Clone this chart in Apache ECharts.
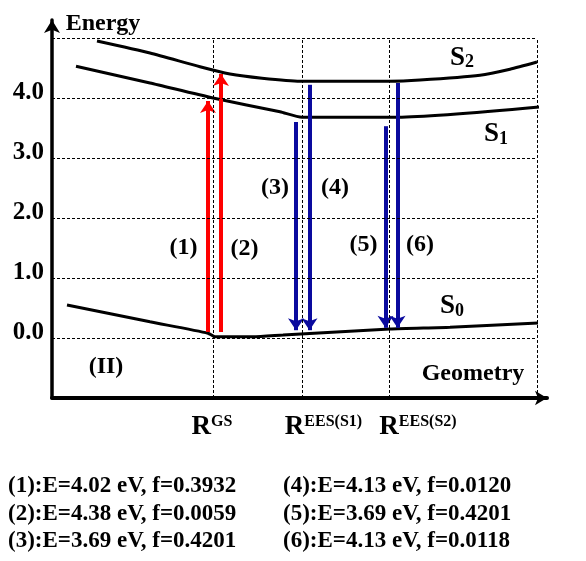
<!DOCTYPE html>
<html>
<head>
<meta charset="utf-8">
<script src="https://cdn.jsdelivr.net/npm/echarts@6/dist/echarts.min.js"></script>
<style>html,body{margin:0;padding:0;background:#fff}#c{width:586px;height:561px}</style>
</head>
<body>
<div id="c"></div>
<script>
// ---- data ----
const xTickPos = [32, 54.3, 73.2];
const xTickSup = ['GS', 'EES(S1)', 'EES(S2)'];
const yTickValues = [0, 1, 2, 3, 4];
const guideY = [0, 1, 2, 3, 4, 5];
const guideX = [32.2, 50, 67.4, 97];

const s2X = [9, 19.6, 29.6, 35.6, 42, 49.6, 67.4, 73.6, 85.6, 91.6, 97];
const s2Y = [4.95, 4.75, 4.52, 4.4, 4.33, 4.28, 4.28, 4.3, 4.38, 4.48, 4.6];
const s1X = [4.8, 19.6, 32.2, 45.6, 50, 69.2, 97.4];
const s1Y = [4.53, 4.25, 4.0, 3.77, 3.68, 3.68, 3.85];
const s0X = [3, 19.6, 31.2, 32.6, 40.2, 46.2, 67.6, 79.6, 97.2];
const s0Y = [0.55, 0.27, 0.08, 0.02, 0.02, 0.05, 0.15, 0.18, 0.25];

const upX = [31.2, 33.8];
const upFrom = [0.1, 0.1];
const upTo = [3.95, 4.4];
const downX = [48.8, 51.5, 66.7, 69.1];
const downFrom = [3.6, 4.22, 3.53, 4.25];
const downTo = [0.13, 0.13, 0.17, 0.17];

const numLabels = ['(1)', '(2)', '(3)', '(4)', '(5)', '(6)'];
const numX = [26.3, 38.5, 44.6, 56.6, 62.3, 73.6];
const numY = [1.5, 1.48, 2.5, 2.5, 1.55, 1.55];

const stateLabels = ['S2', 'S1', 'S0'];
const stateX = [82, 88.8, 80];
const stateY = [4.67, 3.4, 0.53];

const otherLabels = ['Energy', 'Geometry', '(II)'];
const otherX = [10.2, 84.2, 10.8];
const otherY = [5.23, -0.6, -0.48];

const transLeft = ['(1):E=4.02 eV, f=0.3932', '(2):E=4.38 eV, f=0.0059', '(3):E=3.69 eV, f=0.4201'];
const transRight = ['(4):E=4.13 eV, f=0.0120', '(5):E=3.69 eV, f=0.4201', '(6):E=4.13 eV, f=0.0118'];

// ---- chart ----
const FONT = '"Liberation Serif", "Times New Roman", serif';
const zip = (xs, ys) => xs.map((x, i) => [x, ys[i]]);
const curve = (name, xs, ys) => ({
  name, type: 'line', data: zip(xs, ys), showSymbol: false, smooth: 0.2,
  lineStyle: { color: '#000', width: 3 }, silent: true, z: 3
});
const arrows = (xs, from, to, color) => ({
  type: 'lines', coordinateSystem: 'cartesian2d', z: 4, silent: true,
  symbol: ['none', 'arrow'], symbolSize: [11, 12],
  lineStyle: { color, width: 4, opacity: 1 },
  data: xs.map((x, i) => ({ coords: [[x, from[i]], [x, to[i]]] }))
});
const annot = (names, xs, ys, size) => ({
  type: 'scatter', symbolSize: 1, itemStyle: { color: 'rgba(0,0,0,0)', opacity: 1 }, silent: true, z: 5,
  data: names.map((n, i) => ({ name: n, value: [xs[i], ys[i]] })),
  label: {
    show: true, position: 'inside', color: '#000', opacity: 1, fontFamily: FONT, fontWeight: 'bold', fontSize: size,
    textBorderWidth: 0,
    formatter: p => { const m = /^S(\d)$/.exec(p.name); return m ? '{s|S}{d|' + m[1] + '}' : p.name; },
    rich: {
      s: { fontFamily: FONT, fontWeight: 'bold', fontSize: 27, color: '#000', lineHeight: 28 },
      d: { fontFamily: FONT, fontWeight: 'bold', fontSize: 18, color: '#000', lineHeight: 28, padding: [10, 0, 0, 0] }
    }
  }
});

const dash = { color: '#000', width: 1, type: [3, 2] };
const guides = {
  type: 'line', data: [], silent: true, z: 1,
  markLine: {
    silent: true, symbol: 'none', label: { show: false }, lineStyle: dash, animation: false,
    data: guideY.map(v => [{ coord: [0, v] }, { coord: [97, v] }])
      .concat(guideX.map(v => [{ coord: [v, -1] }, { coord: [v, 5] }]))
  }
};

const chart = echarts.init(document.getElementById('c'));
chart.setOption({
  animation: false,
  backgroundColor: '#fff',
  grid: { left: 52, right: 39, top: 20, bottom: 163 },
  xAxis: {
    type: 'value', min: 0, max: 99,
    axisLine: { show: true, onZero: false, lineStyle: { color: '#000', width: 4 }, symbol: ['none', 'arrow'], symbolSize: [11, 12] },
    axisTick: { show: false }, splitLine: { show: false },
    axisLabel: {
      show: true, customValues: xTickPos, margin: 16, verticalAlign: 'top',
      formatter: v => { const i = xTickPos.indexOf(v); return i < 0 ? '' : '{r|R}{sup|' + xTickSup[i] + '}'; },
      rich: {
        r: { fontFamily: FONT, fontWeight: 'bold', fontSize: 27, color: '#000', lineHeight: 26 },
        sup: { fontFamily: FONT, fontWeight: 'bold', fontSize: 16, color: '#000', lineHeight: 26, verticalAlign: 'top', padding: [0, 0, 12, 0] }
      }
    }
  },
  yAxis: {
    type: 'value', min: -1, max: 5.3,
    axisLine: { show: true, onZero: false, lineStyle: { color: '#000', width: 3.5 }, symbol: ['none', 'arrow'], symbolSize: [12, 13] },
    axisTick: { show: false }, splitLine: { show: false },
    axisLabel: {
      show: true, customValues: yTickValues, margin: 8,
      fontFamily: FONT, fontWeight: 'bold', fontSize: 25, color: '#000',
      verticalAlign: 'bottom', lineHeight: 10,
      formatter: v => v.toFixed(1)
    }
  },
  series: [
    guides,
    curve('S2', s2X, s2Y),
    curve('S1', s1X, s1Y),
    curve('S0', s0X, s0Y),
    arrows(upX, upFrom, upTo, '#ff0000'),
    arrows(downX, downFrom, downTo, '#0a0a9e'),
    annot(numLabels, numX, numY, 24),
    annot(stateLabels, stateX, stateY, 27),
    annot(otherLabels, otherX, otherY, 24)
  ],
  graphic: transLeft.map((t, i) => ({
    type: 'text', left: 8, top: 475 + i * 27.5,
    style: { text: t, fontFamily: FONT, fontWeight: 'bold', fontSize: 23, fill: '#000' }
  })).concat(transRight.map((t, i) => ({
    type: 'text', left: 283, top: 475 + i * 27.5,
    style: { text: t, fontFamily: FONT, fontWeight: 'bold', fontSize: 23, fill: '#000' }
  })))
});
</script>
</body>
</html>
